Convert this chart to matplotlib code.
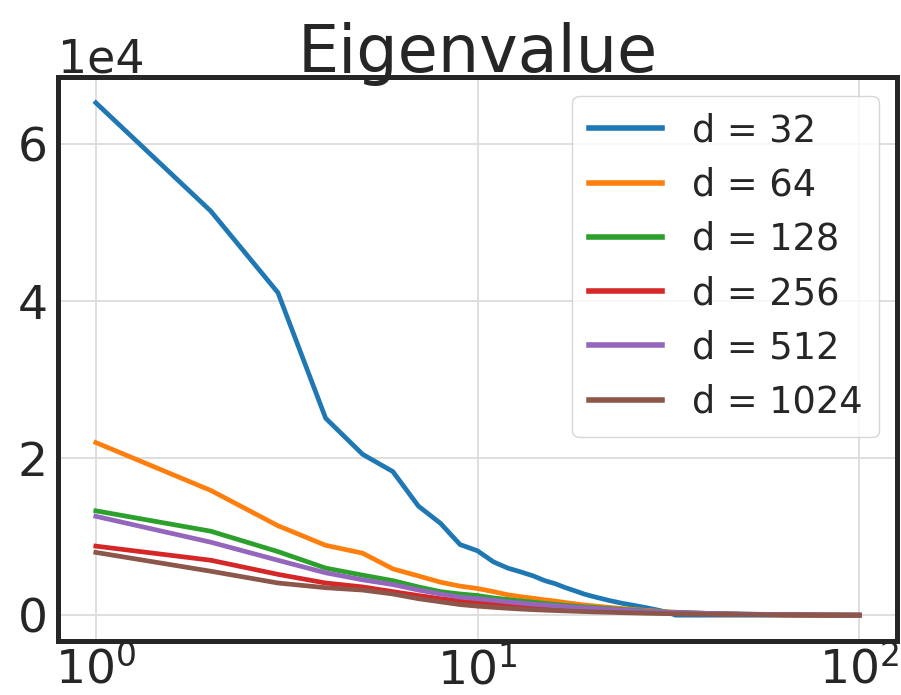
import numpy as np
import matplotlib
matplotlib.use('Agg')
import matplotlib.pyplot as plt

# index of eigenvalue (sorted)
x = [1, 2, 3, 4, 5, 6, 7, 8, 9, 10, 11, 12, 13, 14, 15, 16, 17, 18, 19, 20,
     22, 24, 26, 28, 30, 32, 33, 36, 40, 50, 64, 80, 100]

d32 = [65300, 51500, 41100, 25100, 20500, 18300, 13900, 11700, 9000, 8200,
       6800, 6000, 5500, 5000, 4400, 4000, 3500, 3100, 2700, 2400,
       1900, 1500, 1200, 900, 600, 250, 0, 0, 0, 0, 0, 0, 0]
d64 = [22000, 15900, 11400, 8900, 7900, 5900, 5000, 4200, 3700, 3400,
       3000, 2600, 2350, 2150, 1950, 1800, 1600, 1450, 1300, 1200,
       1000, 850, 700, 600, 500, 400, 380, 300, 220, 100, 20, 0, 0]
d128 = [13300, 10700, 8100, 6000, 5100, 4400, 3600, 3000, 2700, 2500,
        2200, 2000, 1800, 1650, 1500, 1380, 1250, 1150, 1050, 1000,
        850, 720, 620, 520, 450, 380, 360, 300, 230, 130, 60, 20, 0]
d256 = [8800, 7000, 5200, 4100, 3600, 3000, 2500, 2100, 1800, 1600,
        1450, 1300, 1180, 1080, 1000, 920, 850, 790, 730, 680,
        590, 510, 450, 390, 340, 300, 280, 240, 190, 110, 50, 20, 0]
d512 = [12600, 9300, 7000, 5400, 4500, 3900, 3200, 2700, 2300, 2100,
        1900, 1700, 1550, 1400, 1300, 1200, 1100, 1000, 950, 880,
        750, 650, 560, 480, 420, 360, 340, 290, 230, 140, 70, 30, 0]
d1024 = [8000, 5600, 4100, 3500, 3200, 2700, 2100, 1700, 1350, 1150,
         1000, 880, 780, 700, 640, 590, 540, 500, 460, 420,
         370, 320, 280, 240, 210, 190, 180, 150, 120, 70, 30, 10, 0]

series = [d32, d64, d128, d256, d512, d1024]
labels = ['d = 32', 'd = 64', 'd = 128', 'd = 256', 'd = 512', 'd = 1024']

plt.rcParams['font.family'] = 'DejaVu Sans'

fig, ax = plt.subplots(figsize=(9.01, 6.95), dpi=100)
fig.subplots_adjust(left=0.064, right=0.996, top=0.889, bottom=0.078)

for y, lab in zip(series, labels):
    ax.plot(x, y, lw=3.4, label=lab)

ax.set_xscale('log')
ax.ticklabel_format(axis='y', style='sci', scilimits=(0, 0))
ax.yaxis.get_offset_text().set_fontsize(33)
ax.minorticks_off()
ax.grid(True, color='#dcdcdc', lw=1.3)
ax.tick_params(labelsize=34, length=0, pad=7, colors='#262626')
ax.tick_params(axis='x', pad=4)
for s in ax.spines.values():
    s.set_color('#262626')
    s.set_linewidth(3.6)

# fixed y so the title is not pushed up by the offset text
ax.set_title('Eigenvalue', fontsize=47, color='#262626', y=1.0, pad=4)
leg = ax.legend(fontsize=26.5, loc='upper right', handlelength=2.0,
                labelspacing=0.47, borderpad=0.45, framealpha=0.8,
                edgecolor='#cccccc', fancybox=True)
for line in leg.get_lines():
    line.set_linewidth(4)
for t in leg.get_texts():
    t.set_color('#262626')

fig.savefig('out.png', dpi=100)
